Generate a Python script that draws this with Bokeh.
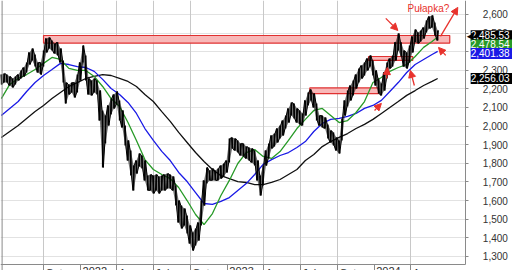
import pandas as pd
from bokeh.plotting import figure
from bokeh.models import (Range1d, SingleIntervalTicker, NumeralTickFormatter, FixedTicker,
                          Label, Arrow, NormalHead, Grid, BoxAnnotation, Span)
from bokeh.embed import file_html
from bokeh.resources import INLINE

# ---------------- data ----------------
weeks = pd.date_range("2021-06-18", periods=156, freq="7D")

bar_high = [2277, 2283, 2277, 2267, 2256, 2267, 2277, 2299, 2315, 2342,
            2396, 2417, 2385, 2342, 2342, 2406, 2471, 2476, 2460, 2444,
            2450, 2417, 2353, 2234, 2224, 2234, 2234, 2277, 2342, 2433,
            2380, 2256, 2245, 2256, 2245, 2191, 2084, 2057, 2111, 2148,
            2170, 2186, 2138, 2084, 2003, 1923, 1869, 1788, 1815, 1853,
            1842, 1815, 1734, 1740, 1734, 1740, 1729, 1734, 1740, 1745,
            1740, 1729, 1681, 1600, 1573, 1557, 1519, 1466, 1428, 1450,
            1482, 1600, 1708, 1778, 1761, 1772, 1761, 1772, 1788, 1799,
            1815, 1933, 1939, 1933, 1923, 1907, 1907, 1890, 1885, 1880,
            1869, 1815, 1734, 1788, 1869, 1907, 1950, 1960, 1987, 2003,
            2030, 2057, 2095, 2127, 2122, 2095, 2084, 2068, 2138, 2181,
            2197, 2175, 2122, 2057, 2057, 2046, 2009, 1976, 1966, 1939,
            1923, 2041, 2138, 2191, 2218, 2245, 2277, 2310, 2326, 2342,
            2363, 2380, 2353, 2299, 2256, 2229, 2288, 2342, 2363, 2380,
            2450, 2498, 2450, 2406, 2396, 2433, 2482, 2519, 2503, 2514,
            2530, 2568, 2589, 2595, 2557, 2514]
bar_low = [2224, 2234, 2234, 2218, 2208, 2224, 2245, 2256, 2267, 2288,
           2331, 2353, 2320, 2288, 2277, 2320, 2396, 2417, 2406, 2390,
           2380, 2342, 2234, 2122, 2170, 2181, 2154, 2181, 2245, 2342,
           2245, 2170, 2165, 2181, 2170, 2030, 1778, 1907, 2003, 2062,
           2095, 2116, 2030, 1993, 1896, 1815, 1734, 1654, 1745, 1783,
           1772, 1708, 1654, 1654, 1638, 1654, 1638, 1654, 1654, 1665,
           1665, 1654, 1573, 1482, 1450, 1466, 1423, 1369, 1331, 1358,
           1385, 1466, 1573, 1691, 1708, 1708, 1708, 1708, 1718, 1729,
           1751, 1804, 1880, 1869, 1858, 1842, 1837, 1826, 1815, 1804,
           1788, 1708, 1627, 1681, 1788, 1826, 1880, 1890, 1912, 1933,
           1950, 1987, 2019, 2057, 2041, 2019, 2009, 2003, 2057, 2111,
           2138, 2100, 2030, 2003, 1993, 1987, 1933, 1912, 1896, 1869,
           1853, 1923, 2057, 2105, 2138, 2165, 2202, 2234, 2256, 2272,
           2299, 2320, 2272, 2218, 2175, 2165, 2191, 2256, 2310, 2320,
           2353, 2406, 2374, 2320, 2310, 2342, 2396, 2450, 2444, 2455,
           2471, 2503, 2525, 2530, 2487, 2460]
last_close = 2485.53

ma_dates = [weeks[i] for i in list(range(0, 156, 3)) + [155]]
ma_short = [2148, 2224, 2256, 2277, 2304, 2337, 2369, 2358, 2310, 2299,
            2299, 2267, 2213, 2148, 2105, 2019, 1923, 1820, 1767, 1740,
            1718, 1670, 1600, 1525, 1471, 1530, 1627, 1708, 1799, 1858,
            1874, 1837, 1826, 1863, 1923, 1987, 2036, 2084, 2095, 2057,
            2019, 2030, 2073, 2132, 2234, 2261, 2294, 2315, 2331, 2374,
            2423, 2455, 2478.54]
ma_mid = [2057, 2095, 2132, 2186, 2234, 2272, 2304, 2337, 2331, 2320,
          2315, 2294, 2251, 2202, 2170, 2127, 2068, 1987, 1923, 1864,
          1815, 1751, 1702, 1643, 1584, 1579, 1595, 1616, 1654, 1691,
          1740, 1794, 1820, 1842, 1858, 1885, 1917, 1971, 2014, 2036,
          2041, 2052, 2068, 2095, 2111, 2138, 2186, 2234, 2288, 2331,
          2358, 2385, 2401.38]
ma_long = [1939, 1971, 2003, 2041, 2078, 2111, 2148, 2181, 2213, 2234,
           2256, 2267, 2277, 2272, 2256, 2240, 2213, 2170, 2132, 2078,
           2025, 1966, 1912, 1858, 1810, 1767, 1734, 1718, 1702, 1697,
           1686, 1686, 1697, 1713, 1740, 1767, 1815, 1847, 1890, 1917,
           1939, 1960, 1987, 2009, 2036, 2068, 2100, 2132, 2165, 2191,
           2218, 2240, 2256.03]

# resistance zones
zone_left = ["2021-10-01", "2023-12-18", "2023-07-25"]
zone_right = ["2024-07-07", "2024-04-06", "2024-01-12"]
zone_top = [2487, 2374, 2205]
zone_bottom = [2446, 2353, 2175]

# arrows (start -> end)
arr_x0 = ["2024-01-30", "2024-06-14", "2024-06-27", "2024-04-10", "2024-02-01", "2024-01-02"]
arr_y0 = [2579, 2482, 2380, 2218, 2256, 2084]
arr_x1 = ["2024-02-29", "2024-07-27", "2024-06-09", "2024-03-31", "2024-02-03", "2024-01-19"]
arr_y1 = [2514, 2638, 2423, 2299, 2315, 2122]

note_text = "Pułapka?"
note_x, note_y = "2024-05-15", 2630

tick_dates = ["2021-10-01", "2022-01-01", "2022-04-01", "2022-07-01", "2022-10-01",
              "2023-01-01", "2023-04-01", "2023-07-01", "2023-10-01", "2024-01-01", "2024-04-01"]
tick_labels = ["Oct", "2022", "Apr", "Jul", "Oct", "2023", "Apr", "Jul", "Oct", "2024", "Apr"]


def ms(d):
    return pd.Timestamp(d).value / 1e6


RED = "#e8322c"
GREEN = "#279a27"
BLUE = "#1a1ae6"
FONT = "Liberation Sans"

X0, X1 = ms("2021-06-16"), ms("2024-12-10")      # whole canvas width
AXIS_X = ms("2024-08-16")                        # where the price scale sits
Y0, Y1 = 1224, 2675                              # whole canvas height
AXIS_Y = 1256                                    # where the time scale sits

p = figure(width=512, height=270, x_axis_type="datetime", y_axis_location="right",
           output_backend="svg", toolbar_location=None,
           x_range=Range1d(X0, X1), y_range=Range1d(Y0, Y1),
           min_border_left=0, min_border_right=0, min_border_top=0, min_border_bottom=0,
           background_fill_color="white", border_fill_color="white")
p.outline_line_color = None

# grids
p.xgrid.visible = False
vt = [ms(d) for d, l in zip(tick_dates, tick_labels) if not l.isdigit()]
p.add_layout(Grid(dimension=0, ticker=FixedTicker(ticks=vt), grid_line_color="#c8c8c8"))
yt = SingleIntervalTicker(interval=100)
p.yaxis.ticker = yt
p.ygrid.ticker = yt
p.ygrid.grid_line_color = "#e2e2e2"

# blank the area right of the price scale
p.add_layout(BoxAnnotation(left=AXIS_X, fill_color="white", fill_alpha=1.0,
                           line_alpha=0, level="glyph"))
# left border
p.add_layout(Span(location=ms("2021-06-20"), dimension="height",
                  line_color="#8a8a8a", line_width=1))

# price scale (right)
ya = p.yaxis[0]
ya.fixed_location = AXIS_X
ya.bounds = (AXIS_Y, Y1)
ya.formatter = NumeralTickFormatter(format="0,0")
ya.major_label_text_font_size = "10px"
ya.major_label_text_font = FONT
ya.major_label_text_color = "#333333"
ya.axis_line_color = "#8a8a8a"
ya.major_tick_line_color = "#8a8a8a"
ya.major_tick_out = 3
ya.major_tick_in = 0
ya.minor_tick_out = 0
ya.minor_tick_in = 0
ya.major_label_standoff = 14

# time scale (bottom): ticks from the axis, labels left-aligned after each tick
xa = p.xaxis[0]
xa.fixed_location = AXIS_Y
xa.bounds = (X0, AXIS_X)
xa.ticker = FixedTicker(ticks=[ms(d) for d in tick_dates])
xa.major_label_overrides = {ms(d): "" for d in tick_dates}
xa.axis_line_color = "#8a8a8a"
xa.major_tick_line_color = "#8a8a8a"
xa.major_tick_out = 6
xa.major_tick_in = 0
xa.minor_tick_out = 0
xa.minor_tick_in = 0
for d, l in zip(tick_dates, tick_labels):
    p.add_layout(Label(x=ms(d), y=1245, x_offset=2, text=l, text_font=FONT,
                       text_font_size="11px", text_color="#333333",
                       text_baseline="top", text_align="left"))

# zones
p.quad(left=pd.to_datetime(zone_left), right=pd.to_datetime(zone_right),
       top=zone_top, bottom=zone_bottom, fill_color="#f7b0b0", fill_alpha=0.9,
       line_color="#e03030", line_width=1.2)

# moving averages
p.line(ma_dates, ma_long, line_color="#111111", line_width=1.3)
p.line(ma_dates, ma_mid, line_color=BLUE, line_width=1.3)
p.line(ma_dates, ma_short, line_color=GREEN, line_width=1.3)

# price bars: weekly range band, one bar per week, and a zig-zag joining the bar ends
p.varea(x=weeks, y1=bar_low, y2=bar_high, fill_color="black", fill_alpha=0.55)
half = pd.Timedelta(days=1.75)
zx, zy = [], []
for i, (t, hi, lo) in enumerate(zip(weeks, bar_high, bar_low)):
    pair = (hi, lo) if i % 2 == 0 else (lo, hi)
    zx += [t - half, t + half]
    zy += list(pair)
p.line(zx, zy, line_color="black", line_width=1.0)
p.segment(x0=weeks, y0=bar_low, x1=weeks, y1=bar_high, line_color="black", line_width=1.5)

# arrows
for a, b, c, d in zip(arr_x0, arr_y0, arr_x1, arr_y1):
    p.add_layout(Arrow(x_start=ms(a), y_start=b, x_end=ms(c), y_end=d,
                       line_color=RED, line_width=1.3,
                       end=NormalHead(size=7, fill_color=RED, line_color=RED)))

p.add_layout(Label(x=ms(note_x), y=note_y, text=note_text, text_color=RED,
                   text_font=FONT, text_font_size="10px",
                   text_align="center", text_baseline="middle"))

# value tags
TAG_X = ms("2024-08-28")
tags = [(f"{last_close:,.2f}", "black", last_close),
        (f"{ma_short[-1]:,.2f}", GREEN, 2436),
        (f"{ma_mid[-1]:,.2f}", BLUE, 2390),
        (f"{ma_long[-1]:,.2f}", "black", ma_long[-1])]
for txt, col, yy in tags:
    p.add_layout(Label(x=TAG_X, y=yy, text=" " + txt + "   ",
                       text_color="white", background_fill_color=col,
                       text_font=FONT, text_font_size="10px",
                       text_baseline="middle", text_align="left"))
p.add_layout(Label(x=ms("2024-08-18"), y=last_close, text="◀", text_color="black",
                   text_font="DejaVu Sans", text_font_size="9px",
                   text_baseline="middle", text_align="left"))

open("out.html", "w").write(file_html(p, INLINE))
